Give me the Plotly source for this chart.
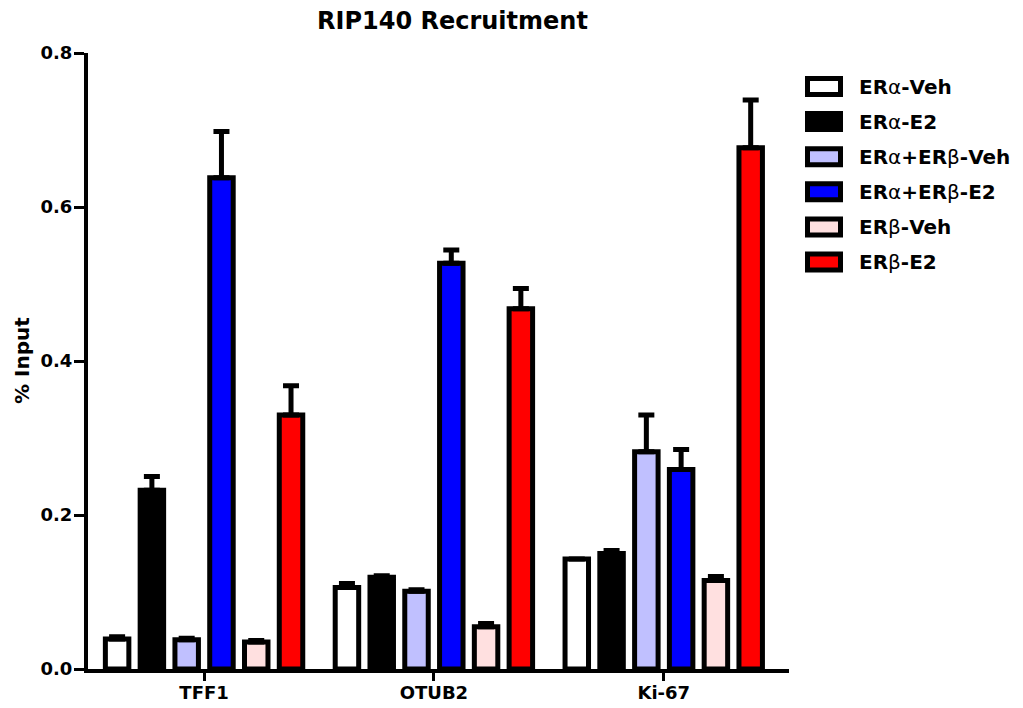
import plotly.graph_objects as go

categories = ["TFF1", "OTUB2", "Ki-67"]
series_names = ["ERα-Veh", "ERα-E2", "ERα+ERβ-Veh", "ERα+ERβ-E2", "ERβ-Veh", "ERβ-E2"]
series_labels = ["<b>ER</b>α<b>-Veh</b>", "<b>ER</b>α<b>-E2</b>", "<b>ER</b>α<b>+ER</b>β<b>-Veh</b>",
                 "<b>ER</b>α<b>+ER</b>β<b>-E2</b>", "<b>ER</b>β<b>-Veh</b>", "<b>ER</b>β<b>-E2</b>"]
series_colors = ["#FFFFFF", "#000000", "#C0C0FF", "#0000FF", "#FFE0E0", "#FF0000"]

era_veh = [0.039, 0.106, 0.143]
era_e2 = [0.232, 0.119, 0.150]
erab_veh = [0.038, 0.101, 0.282]
erab_e2 = [0.638, 0.527, 0.259]
erb_veh = [0.035, 0.055, 0.115]
erb_e2 = [0.330, 0.468, 0.677]

era_veh_err = [0.003, 0.005, 0.0]
era_e2_err = [0.018, 0.002, 0.004]
erab_veh_err = [0.002, 0.002, 0.048]
erab_e2_err = [0.060, 0.017, 0.026]
erb_veh_err = [0.002, 0.004, 0.005]
erb_e2_err = [0.038, 0.026, 0.062]

values = [era_veh, era_e2, erab_veh, erab_e2, erb_veh, erb_e2]
errors = [era_veh_err, era_e2_err, erab_veh_err, erab_e2_err, erb_veh_err, erb_e2_err]

y_ticks = [0.0, 0.2, 0.4, 0.6, 0.8]
y_ticklabels = ["0.0", "0.2", "0.4", "0.6", "0.8"]

FONT = "DejaVu Sans"
xpos = list(range(len(categories)))

fig = go.Figure()
for name, vals, errs, col in zip(series_names, values, errors, series_colors):
    fig.add_trace(go.Bar(
        x=xpos, y=vals, name=name,
        marker=dict(color=col, line=dict(color="black", width=5)),
        error_y=dict(type="data", array=errs, arrayminus=[0] * len(errs), symmetric=False,
                     color="black", thickness=5, width=8, visible=True),
        showlegend=False,
    ))

# plot area in pixels
L, R, T, B = 88, 789, 53, 669
W, H = 1023, 708

def px_x(p):
    return (p - L) / (R - L)

def px_y(p):
    return (B - p) / (B - T)

shapes = []
annotations = []
row0, step = 86.5, 35.1
for i, (lab, col) in enumerate(zip(series_labels, series_colors)):
    cy = row0 + i * step
    shapes.append(dict(type="rect", xref="paper", yref="paper",
                       x0=px_x(807.5), x1=px_x(840.5), y0=px_y(cy - 8), y1=px_y(cy + 8),
                       fillcolor=col, line=dict(color="black", width=5)))
    annotations.append(dict(xref="paper", yref="paper", x=px_x(857), y=px_y(cy),
                            xanchor="left", yanchor="middle", showarrow=False, text=lab,
                            font=dict(family=FONT, size=20, color="black")))

annotations.append(dict(xref="paper", yref="paper", x=px_x(22), y=px_y(361),
                        xanchor="center", yanchor="middle", showarrow=False,
                        text="<b>% Input</b>", textangle=-90,
                        font=dict(family=FONT, size=20, color="black")))
annotations.append(dict(xref="paper", yref="paper", x=px_x(452), y=px_y(21),
                        xanchor="center", yanchor="middle", showarrow=False,
                        text="<b>RIP140 Recruitment</b>",
                        font=dict(family=FONT, size=24, color="black")))

fig.update_layout(
    width=W, height=H,
    margin=dict(l=L, r=W - R, t=T, b=H - B, pad=0, autoexpand=False),
    paper_bgcolor="white", plot_bgcolor="white",
    barmode="group", bargap=0.092, bargroupgap=0.325,
    shapes=shapes, annotations=annotations,
    font=dict(family=FONT, size=18, color="black"),
    xaxis=dict(range=[-0.505, 2.545], tickvals=xpos,
               ticktext=["<b>%s</b>" % c for c in categories],
               showline=True, linecolor="black", linewidth=4,
               ticks="outside", ticklen=8, tickwidth=3, tickcolor="black",
               showgrid=False, zeroline=False, automargin=False,
               ticklabelstandoff=-4,
               tickfont=dict(family=FONT, size=18, color="black")),
    yaxis=dict(range=[0, 0.8], tickvals=y_ticks,
               ticktext=["<b>%s</b>" % t for t in y_ticklabels],
               showline=True, linecolor="black", linewidth=4,
               ticks="outside", ticklen=10, tickwidth=3, tickcolor="black",
               showgrid=False, zeroline=False, automargin=False,
               ticklabelstandoff=-2,
               tickfont=dict(family=FONT, size=18, color="black")),
)

fig.write_html("out.html")
